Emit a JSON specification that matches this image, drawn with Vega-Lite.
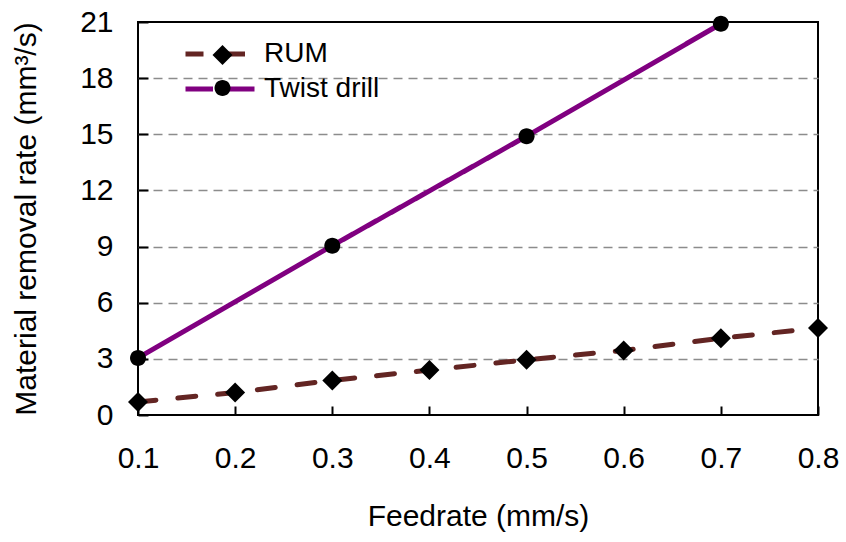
{
  "$schema": "https://vega.github.io/schema/vega-lite/v6.json",
  "width": 680,
  "height": 393,
  "autosize": {"type": "none"},
  "padding": {"left": 138, "top": 22, "right": 28, "bottom": 127},
  "background": "white",
  "config": {
    "font": "Liberation Sans",
    "view": {"stroke": "black", "strokeWidth": 2},
    "axis": {
      "domain": false,
      "tickColor": "black",
      "tickWidth": 2,
      "labelColor": "black",
      "titleColor": "black",
      "labelFont": "Liberation Sans",
      "titleFont": "Liberation Sans",
      "labelFontSize": 30,
      "titleFontSize": 30,
      "titleFontWeight": "normal",
      "labelFlush": false
    }
  },
  "data": {
    "values": [
      {"feed": 0.1, "mrr": 0.7, "series": "RUM"},
      {"feed": 0.2, "mrr": 1.2, "series": "RUM"},
      {"feed": 0.3, "mrr": 1.85, "series": "RUM"},
      {"feed": 0.4, "mrr": 2.4, "series": "RUM"},
      {"feed": 0.5, "mrr": 2.95, "series": "RUM"},
      {"feed": 0.6, "mrr": 3.45, "series": "RUM"},
      {"feed": 0.7, "mrr": 4.1, "series": "RUM"},
      {"feed": 0.8, "mrr": 4.65, "series": "RUM"},
      {"feed": 0.1, "mrr": 3.05, "series": "Twist drill"},
      {"feed": 0.3, "mrr": 9.05, "series": "Twist drill"},
      {"feed": 0.5, "mrr": 14.9, "series": "Twist drill"},
      {"feed": 0.7, "mrr": 20.9, "series": "Twist drill"}
    ]
  },
  "encoding": {
    "x": {
      "field": "feed",
      "type": "quantitative",
      "scale": {"domain": [0.1, 0.8], "nice": false, "zero": false},
      "axis": {
        "values": [0.1, 0.2, 0.3, 0.4, 0.5, 0.6, 0.7, 0.8],
        "format": ".1f",
        "offset": -9,
        "tickSize": 9,
        "labelPadding": 28,
        "grid": false,
        "title": "Feedrate (mm/s)",
        "titlePadding": 28
      }
    },
    "y": {
      "field": "mrr",
      "type": "quantitative",
      "scale": {"domain": [0, 21], "nice": false},
      "axis": {
        "values": [0, 3, 6, 9, 12, 15, 18, 21],
        "offset": -10,
        "tickSize": 10,
        "labelPadding": 25,
        "grid": true,
        "gridDash": [9, 6],
        "gridColor": "#8c8c8c",
        "gridWidth": 1.5,
        "gridOpacity": {"condition": {"test": "datum.value == 0 || datum.value == 21", "value": 0}, "value": 1},
        "title": "Material removal rate (mm³/s)",
        "titlePadding": 38
      }
    }
  },
  "layer": [
    {
      "mark": {"type": "line", "strokeWidth": 5, "strokeCap": "round"},
      "encoding": {
        "color": {
          "field": "series",
          "type": "nominal",
          "scale": {"domain": ["RUM", "Twist drill"], "range": ["#632523", "#800080"]},
          "legend": {
            "title": null, "orient": "none", "legendX": 68, "legendY": 18,
            "symbolType": "M-3.45,0H-0.7M0.7,0H3.45", "symbolSize": 400, "symbolStrokeWidth": 5,
            "labelFontSize": 28, "labelFont": "Liberation Sans", "labelColor": "black",
            "labelOffset": 30, "rowPadding": 7, "padding": 0
          }
        },
        "strokeDash": {
          "field": "series",
          "type": "nominal",
          "scale": {"domain": ["RUM", "Twist drill"], "range": [[18, 22], [1, 0]]},
          "legend": {
            "title": null, "orient": "none", "legendX": 68, "legendY": 18,
            "symbolType": "M-3.45,0H-0.7M0.7,0H3.45", "symbolSize": 400, "symbolStrokeWidth": 5,
            "labelFontSize": 28, "labelFont": "Liberation Sans", "labelColor": "black",
            "labelOffset": 30, "rowPadding": 7, "padding": 0
          }
        }
      }
    },
    {
      "mark": {"type": "point", "filled": true, "color": "black", "opacity": 1, "size": 400},
      "encoding": {
        "shape": {
          "field": "series",
          "type": "nominal",
          "scale": {"range": ["M0,-1L1,0L0,1L-1,0Z", "M-0.8,0A0.8,0.8,0,1,0,0.8,0A0.8,0.8,0,1,0,-0.8,0Z"]},
          "legend": {
            "title": null, "orient": "none", "legendX": 70.5, "legendY": 19,
            "symbolSize": 400, "symbolStrokeWidth": 0, "symbolFillColor": "black",
            "labelExpr": "''", "labelFontSize": 28, "labelOffset": 0,
            "rowPadding": 5, "padding": 0
          }
        }
      }
    }
  ]
}
